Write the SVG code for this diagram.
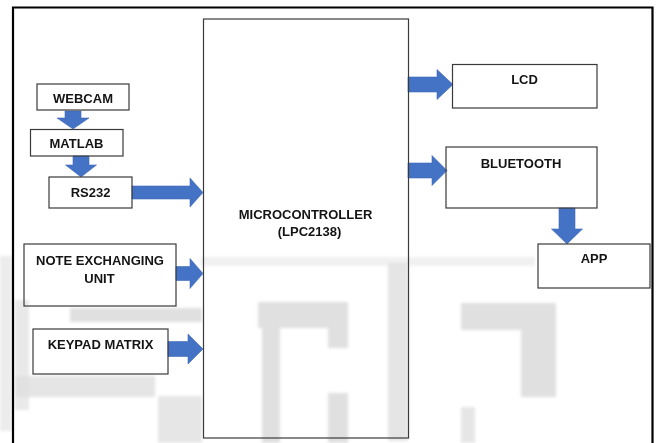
<svg xmlns="http://www.w3.org/2000/svg" width="658" height="443" viewBox="0 0 658 443">
  <style>
    .box { fill: none; stroke: #3a3a3a; stroke-width: 1.2; }
    .lbl { font-family: "Liberation Sans", Arial, sans-serif; font-weight: bold; font-size: 13px; fill: #141414; text-anchor: middle; }
    .arrow { fill: #4472C4; stroke: #3f6ab8; stroke-width: 0.6; }
    .wm { fill: #e0e0e0; }
  </style>
  <defs>
    <filter id="soft" x="-5%" y="-5%" width="110%" height="110%">
      <feGaussianBlur stdDeviation="1.6"/>
    </filter>
  </defs>

  <rect x="0" y="0" width="658" height="443" fill="#ffffff"/>

  <!-- faint background mark -->
  <g id="backdrop" filter="url(#soft)">
    <rect class="wm" x="0" y="256" width="12" height="175" opacity="0.6"/>
    <rect class="wm" x="15" y="300" width="14" height="110" opacity="0.7"/>
    <rect class="wm" x="70" y="308" width="132" height="14"/>
    <rect class="wm" x="15" y="376" width="140" height="21" opacity="0.85"/>
    <rect class="wm" x="158" y="396" width="44" height="47" opacity="0.8"/>
    <rect x="200" y="257" width="335" height="9" fill="#f1f1f1"/>
    <rect class="wm" x="258" y="302" width="90" height="26"/>
    <rect class="wm" x="262" y="328" width="18" height="115"/>
    <rect class="wm" x="328" y="303" width="20" height="45"/>
    <rect class="wm" x="328" y="393" width="20" height="50"/>
    <rect class="wm" x="388" y="263" width="20" height="178" opacity="0.85"/>
    <rect class="wm" x="461" y="303" width="95" height="27"/>
    <rect class="wm" x="521" y="330" width="35" height="67"/>
    <rect class="wm" x="461" y="407" width="14" height="36" opacity="0.8"/>
  </g>

  <!-- outer frame -->
  <path d="M13,443 V7.5 H652.5 V443" fill="none" stroke="#000000" stroke-width="2.2"/>

  <!-- connectors -->
  <g id="connectors">
    <!-- WEBCAM to MATLAB -->
    <polygon class="arrow" points="65,111 81,111 81,118 89,118 73,129 57,118 65,118"/>
    <!-- MATLAB to RS232 -->
    <polygon class="arrow" points="73,156 89,156 89,165 96.5,165 81,177 65.5,165 73,165"/>
    <!-- RS232 to microcontroller -->
    <polygon class="arrow" points="132,186 190,186 190,178 203,192.5 190,207 190,199 132,199"/>
    <!-- note exchanging unit to microcontroller -->
    <polygon class="arrow" points="176,266.5 190,266.5 190,258.5 203,273.5 190,288.5 190,280.5 176,280.5"/>
    <!-- keypad matrix to microcontroller -->
    <polygon class="arrow" points="168,341.5 188,341.5 188,334 203,349 188,364 188,356.5 168,356.5"/>
    <!-- microcontroller to LCD -->
    <polygon class="arrow" points="408,77 437,77 437,69.5 453,84.5 437,99.5 437,92 408,92"/>
    <!-- microcontroller to bluetooth -->
    <polygon class="arrow" points="408,163 432,163 432,155.5 447,170.5 432,185.5 432,178 408,178"/>
    <!-- bluetooth to app -->
    <polygon class="arrow" points="559,208 575,208 575,229 582.5,229 567,244 551.5,229 559,229"/>
  </g>

  <g id="webcam">
    <rect class="box" x="37" y="84" width="92" height="26"/>
    <text class="lbl" x="83" y="103">WEBCAM</text>
  </g>

  <g id="matlab">
    <rect class="box" x="30.5" y="129.5" width="92.5" height="26.5"/>
    <text class="lbl" x="76.5" y="147.5">MATLAB</text>
  </g>

  <g id="rs232">
    <rect class="box" x="49" y="177" width="83" height="31"/>
    <text class="lbl" x="90.5" y="196.5">RS232</text>
  </g>

  <g id="note-exchanging-unit">
    <rect class="box" x="24" y="244" width="152" height="62"/>
    <text class="lbl" x="100" y="265">NOTE EXCHANGING</text>
    <text class="lbl" x="99.5" y="283">UNIT</text>
  </g>

  <g id="keypad-matrix">
    <rect class="box" x="33" y="329" width="135" height="45"/>
    <text class="lbl" x="100.5" y="349">KEYPAD MATRIX</text>
  </g>

  <g id="microcontroller">
    <rect class="box" x="203.5" y="19" width="205" height="419"/>
    <text class="lbl" x="305.5" y="218.5">MICROCONTROLLER</text>
    <text class="lbl" x="309.5" y="235.5">(LPC2138)</text>
  </g>

  <g id="lcd">
    <rect class="box" x="452.5" y="64.5" width="144.5" height="43.5"/>
    <text class="lbl" x="524.5" y="84">LCD</text>
  </g>

  <g id="bluetooth">
    <rect class="box" x="446" y="147" width="151" height="61"/>
    <text class="lbl" x="521" y="167.5">BLUETOOTH</text>
  </g>

  <g id="app">
    <rect class="box" x="538" y="244" width="112" height="44"/>
    <text class="lbl" x="594" y="263">APP</text>
  </g>
</svg>
